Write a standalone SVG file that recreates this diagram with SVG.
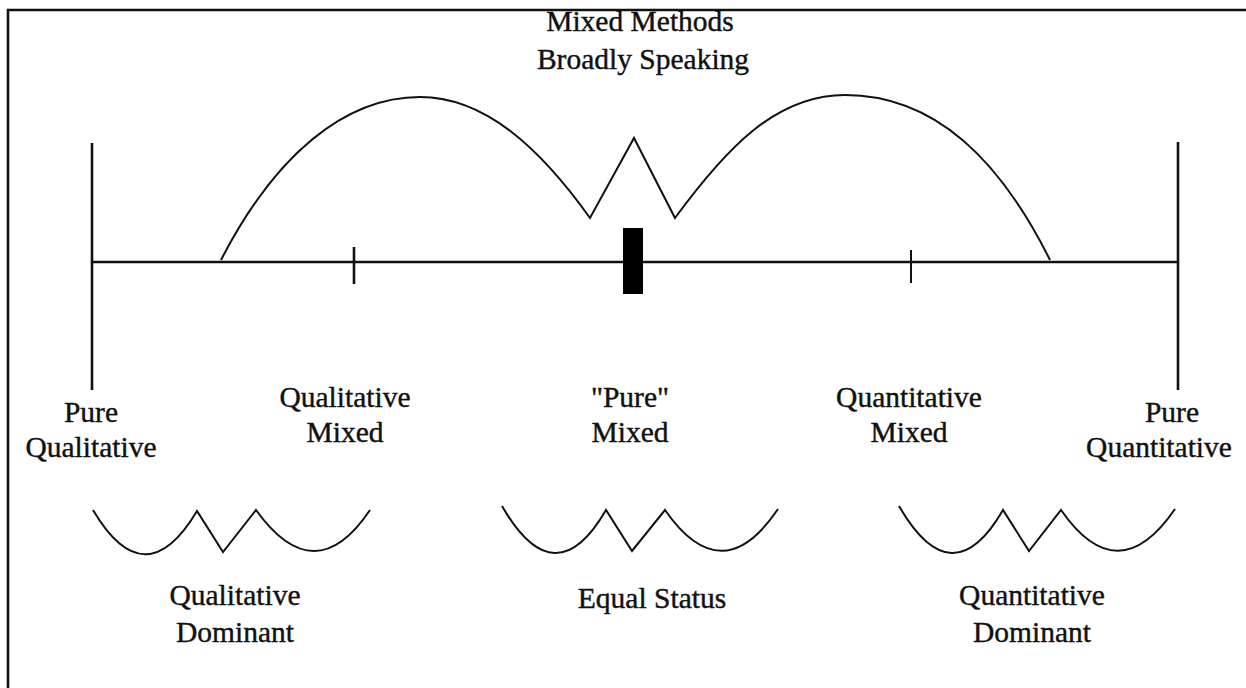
<svg xmlns="http://www.w3.org/2000/svg" width="1246" height="688" viewBox="0 0 1246 688">
<style>
.ln{stroke:#111;stroke-width:2.6;fill:none}
.cv{stroke:#111;stroke-width:2;fill:none;stroke-linejoin:miter}
text{font-family:"Liberation Serif","Times New Roman",serif;font-size:29.5px;fill:#111;stroke:#111;stroke-width:0.4;text-anchor:middle}
</style>
<rect width="1246" height="688" fill="#fff"/>
<g id="frame"><path class="ln" d="M8,688 V10 H1246"/></g>
<g id="connectors">
<path class="ln" d="M92,262 H1178"/>
<path class="ln" d="M92,143 V390"/>
<path class="ln" d="M1178,142 V390"/>
<path class="ln" d="M354,247 V284"/>
<path class="ln" d="M911,250 V283" style="stroke-width:2"/>
<rect x="623" y="228" width="20" height="66" fill="#000"/>
<path class="cv" d="M221,260 C275,155 345,97 420,97 C485,97 540,148 590,218 L634,138 L675,218 C725,150 775,95 845,95 C935,95 1000,160 1050,260"/>
<path class="cv" d="M93,510 Q145,598 197,511 L223,552 L256,510 Q315,592 370,510"/>
<path class="cv" d="M502,506 Q555,598 606,510 L632,551 L665,510 Q722,592 778,509"/>
<path class="cv" d="M899,506 Q952,598 1003,510 L1029,551 L1061,510 Q1118,592 1175,509"/>
</g>
<g id="title"><text x="640" y="31">Mixed Methods</text><text x="643" y="69">Broadly Speaking</text></g>
<g id="pure-qual"><text x="91" y="422">Pure</text><text x="91" y="457">Qualitative</text></g>
<g id="qual-mixed"><text x="345" y="407">Qualitative</text><text x="345" y="442">Mixed</text></g>
<g id="pure-mixed"><text x="630" y="407">"Pure"</text><text x="630" y="442">Mixed</text></g>
<g id="quan-mixed"><text x="909" y="407">Quantitative</text><text x="909" y="442">Mixed</text></g>
<g id="pure-quan"><text x="1172" y="422">Pure</text><text x="1159" y="457">Quantitative</text></g>
<g id="qual-dom"><text x="235" y="605">Qualitative</text><text x="235" y="642">Dominant</text></g>
<g id="equal"><text x="652" y="608">Equal Status</text></g>
<g id="quan-dom"><text x="1032" y="605">Quantitative</text><text x="1032" y="642">Dominant</text></g>
</svg>
